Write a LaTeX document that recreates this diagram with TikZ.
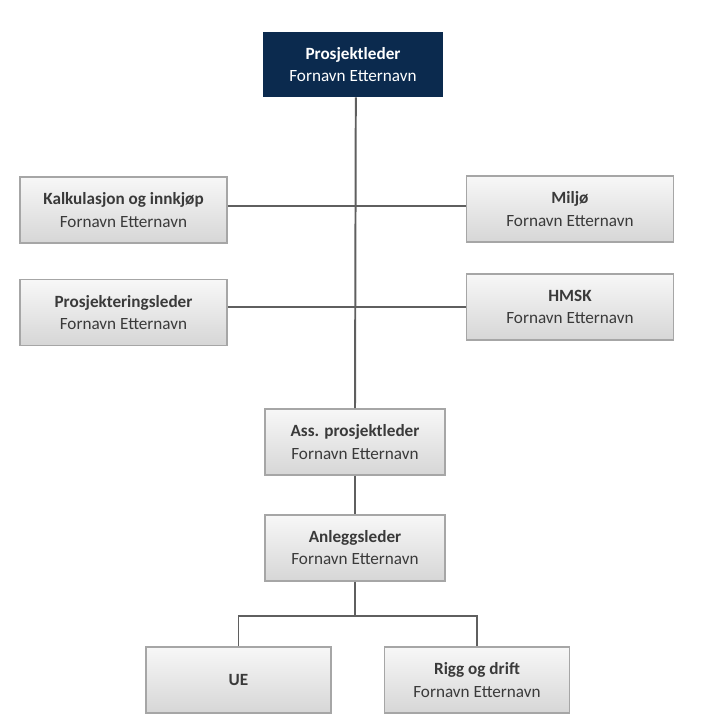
\documentclass[tikz,border=0pt]{standalone}
\usepackage{fontspec}
\setmainfont{Carlito}
\usepackage{xcolor}
\usepackage{tikz}
\usetikzlibrary{positioning}
\definecolor{navy}{HTML}{0B2A4E}
\definecolor{txtgray}{HTML}{3A3A3A}
\definecolor{boxedge}{HTML}{A6A6A6}
\definecolor{linegray}{HTML}{5F5F5F}

\begin{document}
\begin{tikzpicture}[
			x=0.025cm, y=-0.025cm,
			every node/.style={font=\fontsize{12.2}{16}\selectfont},
			%% Node styles
			leader/.style={rectangle, fill=navy, text=white,
				minimum width=4.5cm, minimum height=1.625cm, align=center},
			role/.style={rectangle, draw=boxedge, line width=1.2pt,
				top color=gray!6, bottom color=gray!32, text=txtgray,
				minimum width=5.175cm, minimum height=1.65cm, align=center},
			mid/.style={role, minimum width=4.5cm},
			low/.style={role, minimum width=4.625cm},
			%% Line style
			link/.style={draw=linegray, line width=1.4pt},
			]
			\useasboundingbox (0,0) rectangle (709,725);
			
			%% -- Nodes -----------------------------------------------------
			\node[leader] (pl)   at (353,64.5)
			{\textbf{Prosjektleder}\\Fornavn Etternavn};
			
			\node[role]   (kalk) at (123.5,210)
			{\textbf{Kalkulasjon og innkjøp}\\Fornavn Etternavn};
			\node[role]   (milj) at (570,209)
			{\textbf{Miljø}\\Fornavn Etternavn};
			
			\node[role]   (pros) at (123.5,312.5)
			{\textbf{Prosjekteringsleder}\\Fornavn Etternavn};
			\node[role]   (hmsk) at (570,307)
			{\textbf{HMSK}\\Fornavn Etternavn};
			
			\node[mid]    (ass)  at (355,442)
			{\textbf{Ass. prosjektleder}\\Fornavn Etternavn};
			\node[mid, below=0.95cm of ass] (anl)
			{\textbf{Anleggsleder}\\Fornavn Etternavn};
			
			\node[low]    (ue)   at (238.5,680)
			{\textbf{UE}};
			\node[low]    (rigg) at (477,680)
			{\textbf{Rigg og drift}\\Fornavn Etternavn};
			
			%% -- Lines -----------------------------------------------------
			\coordinate (fork) at ([yshift=-0.85cm]anl.south);
			
			\draw[link] ([xshift=2pt]pl.south) -- (ass.north);
			\draw[link] ([yshift=3pt]kalk.east) -- ([yshift=3pt]kalk.east -| milj.west);
			\draw[link] (hmsk.west -| pros.east) -- (hmsk.west);
			\draw[link] (ass) -- (anl);
			\draw[link] (anl.south) -- (fork);
			\draw[link] (ue.north) |- (fork) -| (rigg.north);
			
\end{tikzpicture}
\end{document}
